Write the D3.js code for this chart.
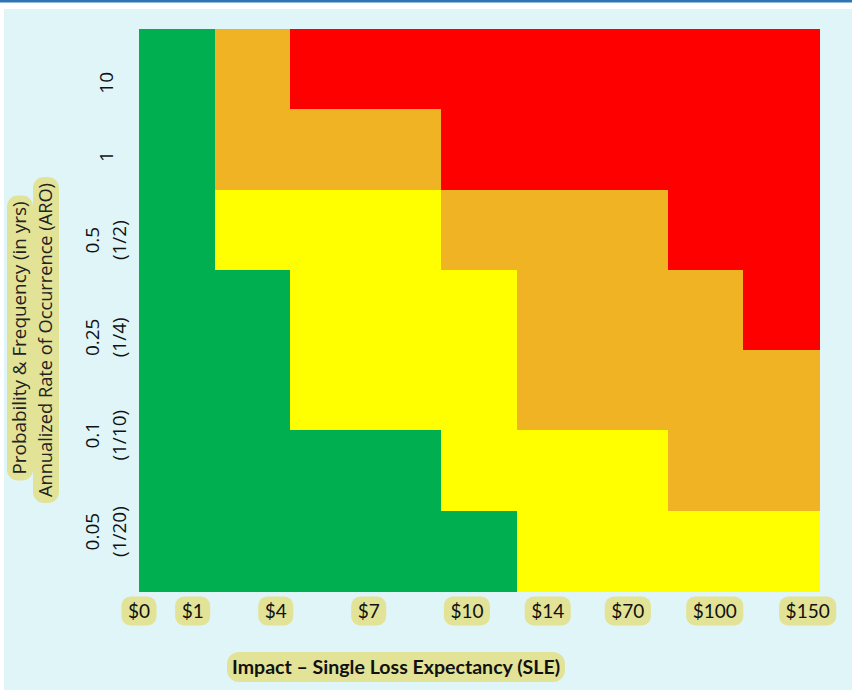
<!DOCTYPE html>
<html><head><meta charset="utf-8">
<script src="https://cdn.jsdelivr.net/npm/d3@7"></script>
<style>html,body{margin:0;padding:0;background:#fff;}svg{display:block;}</style>
</head><body>
<script>
// ---- data ----
const impactLabels = ["$0","$1","$4","$7","$10","$14","$70","$100","$150"];
const aroLabels = [["10"],["1"],["0.5","(1/2)"],["0.25","(1/4)"],["0.1","(1/10)"],["0.05","(1/20)"]];
const riskLevels = ["low","medium","high","critical"];
// rows top (most frequent) to bottom, columns left (low impact) to right
const row0 = [0,2,3,3,3,3,3,3,3];
const row1 = [0,2,2,2,3,3,3,3,3];
const row2 = [0,1,1,1,2,2,2,3,3];
const row3 = [0,0,1,1,1,2,2,2,3];
const row4 = [0,0,1,1,1,2,2,2,2];
const row5 = [0,0,0,0,1,1,1,2,2];
const row6 = [0,0,0,0,0,1,1,1,1];
const grid = [row0,row1,row2,row3,row4,row5,row6];
const xTitle = "Impact \u2013 Single Loss Expectancy (SLE)";
const yTitle = ["Probability & Frequency (in yrs)","Annualized Rate of Occurrence (ARO)"];

// ---- layout (in grid units) ----
const xLabelAt = [0,0.71,1.81,3.04,4.34,5.41,6.47,7.62,8.85];
const yLabelAt = [0.67,1.59,2.63,3.84,5.06,6.26];

const W=852,H=690;
const svg=d3.select("body").append("svg").attr("width",W).attr("height",H);
svg.append("rect").attr("x",0).attr("y",0).attr("width",W).attr("height",H).attr("fill","#fff");
svg.append("rect").attr("x",0).attr("y",0).attr("width",W).attr("height",2.5).attr("fill","#2e75b6");
svg.append("rect").attr("x",4).attr("y",9).attr("width",W-4).attr("height",H-9).attr("fill","#e0f5f8");

const x=d3.scaleLinear().domain([0,9]).range([139,819]);
const y=d3.scaleLinear().domain([0,7]).range([29,591]);
const color=d3.scaleOrdinal().domain([0,1,2,3]).range(["#00b050","#ffff00","#f0b323","#ff0000"]);

const cells=[];
grid.forEach((r,ri)=>r.forEach((v,ci)=>cells.push({r:ri,c:ci,v})));
svg.append("g").selectAll("rect").data(cells).join("rect")
  .attr("x",d=>x(d.c)).attr("y",d=>y(d.r))
  .attr("width",x(1)-x(0)+0.6).attr("height",y(1)-y(0)+0.6)
  .attr("fill",d=>color(d.v)).attr("shape-rendering","crispEdges");

const pill="#e2e396";
function fit(tx,target){
  const w=tx.node().getComputedTextLength();
  if(Math.abs(w-target)>1) tx.attr("textLength",target).attr("lengthAdjust","spacingAndGlyphs");
  return target;
}
// x tick labels
const xg=svg.append("g");
impactLabels.forEach((t,i)=>{
  const g=xg.append("g").attr("transform",`translate(${x(xLabelAt[i])},611)`);
  const rect=g.append("rect");
  const tx=g.append("text").text(t).attr("text-anchor","middle").attr("dy","0.35em")
    .attr("font-family","Lato, 'Open Sans', sans-serif").attr("font-size",19).attr("fill","#111");
  const w=tx.node().getComputedTextLength()+13;
  rect.attr("x",-w/2).attr("y",-14.5).attr("width",w).attr("height",29).attr("rx",9).attr("ry",9).attr("fill",pill);
});

// y tick labels (rotated)
const yg=svg.append("g");
aroLabels.forEach((lines,i)=>{
  const cy=y(yLabelAt[i]);
  const n=lines.length;
  lines.forEach((t,j)=>{
    const cx= n===1 ? 106 : (j===0?92:119);
    yg.append("text").attr("transform",`translate(${cx},${cy}) rotate(-90)`)
      .attr("text-anchor","middle").attr("dy","0.35em")
      .attr("font-family","'Open Sans', sans-serif").attr("font-size",19).attr("fill","#111").text(t);
  });
});

// y title
const yt=svg.append("g");
[[20,338,yTitle[0],273],[46,340,yTitle[1],314]].forEach(([cx,cy,t,tw])=>{
  const g=yt.append("g").attr("transform",`translate(${cx},${cy}) rotate(-90)`);
  const rect=g.append("rect");
  const tx=g.append("text").text(t).attr("text-anchor","middle").attr("dy","0.35em")
    .attr("font-family","'Open Sans', sans-serif").attr("font-size",18).attr("fill","#222");
  const w=fit(tx,tw)+12;
  rect.attr("x",-w/2).attr("y",-13).attr("width",w).attr("height",26).attr("rx",11).attr("ry",11).attr("fill",pill);
});

// x title
const xt=svg.append("g").attr("transform","translate(396,667)");
const xr=xt.append("rect");
const xtt=xt.append("text").text(xTitle).attr("text-anchor","middle").attr("dy","0.35em")
  .attr("font-family","Lato, 'Open Sans', sans-serif").attr("font-weight","bold").attr("font-size",19).attr("fill","#111");
const xw=fit(xtt,328)+10;
xr.attr("x",-xw/2).attr("y",-15).attr("width",xw).attr("height",30).attr("rx",12).attr("ry",12).attr("fill",pill);
</script>
</body></html>
